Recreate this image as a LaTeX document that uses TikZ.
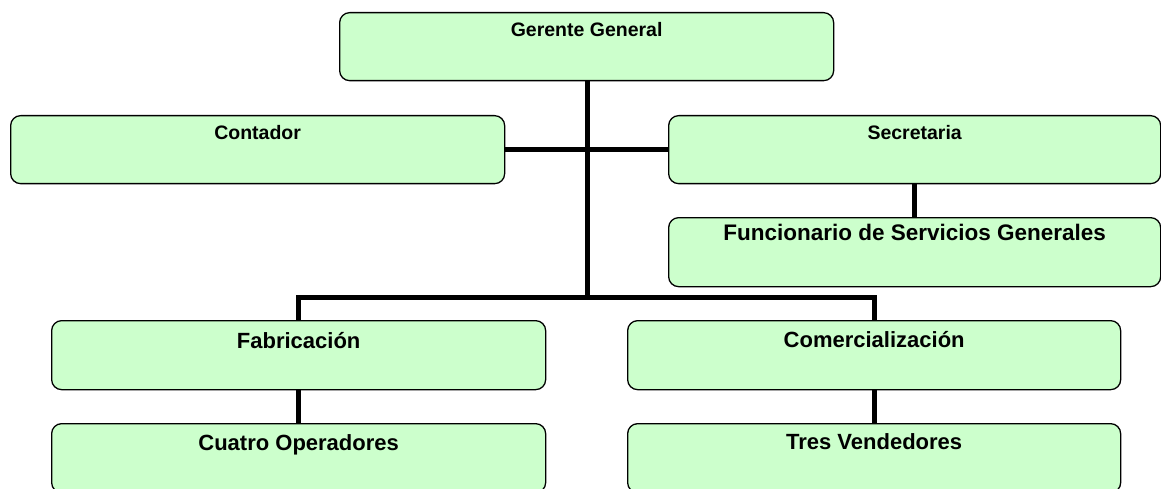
\documentclass[tikz,border=0pt]{standalone}
\usepackage{fontspec}
\setmainfont{Liberation Sans}
\definecolor{boxgreen}{HTML}{CCFFCC}
\begin{document}
\begin{tikzpicture}[x=1pt,y=-1pt,
  orgbox/.style={draw=black, line width=1.3pt, fill=boxgreen, rounded corners=10pt,
    inner sep=0pt, anchor=north west, font=\bfseries\fontsize{#1}{#1}\selectfont},
  orgbox/.default=19.5,
  conn/.style={line width=5pt, black}]
\useasboundingbox (0,0) rectangle (1161,489);
\clip (0,0) rectangle (1161,489);
\node[orgbox, minimum width=494pt, text height=24pt, text depth=44pt] (ger) at (339,12) {Gerente General};
\node[orgbox, minimum width=494pt, text height=24pt, text depth=44pt] (cont) at (10,115) {Contador};
\node[orgbox, minimum width=492pt, text height=24pt, text depth=44pt] (sec) at (668,115) {Secretaria};
\node[orgbox=22.5, minimum width=492pt, text height=23pt, text depth=46pt] (fun) at (668,217) {Funcionario de Servicios Generales};
\node[orgbox=22, minimum width=494pt, text height=28pt, text depth=41pt] (fab) at (51,320) {Fabricación};
\node[orgbox=22, minimum width=493pt, text height=27pt, text depth=42pt] (com) at (627,320) {Comercialización};
\node[orgbox=22, minimum width=494pt, text height=27pt, text depth=42pt] (cua) at (51,423) {Cuatro Operadores};
\node[orgbox=22, minimum width=493pt, text height=26pt, text depth=43pt] (tres) at (627,423) {Tres Vendedores};
\coordinate (j) at (587,297);
\draw[conn] (ger.south -| j) -- (j);
\draw[conn] (cont.east) -- (sec.west);
\draw[conn] (sec.south) -- (fun.north);
\draw[conn] (fab.north) |- (com.north |- j) -- (com.north);
\draw[conn] (fab.south) -- (cua.north);
\draw[conn] (com.south) -- (tres.north);
\end{tikzpicture}
\end{document}
